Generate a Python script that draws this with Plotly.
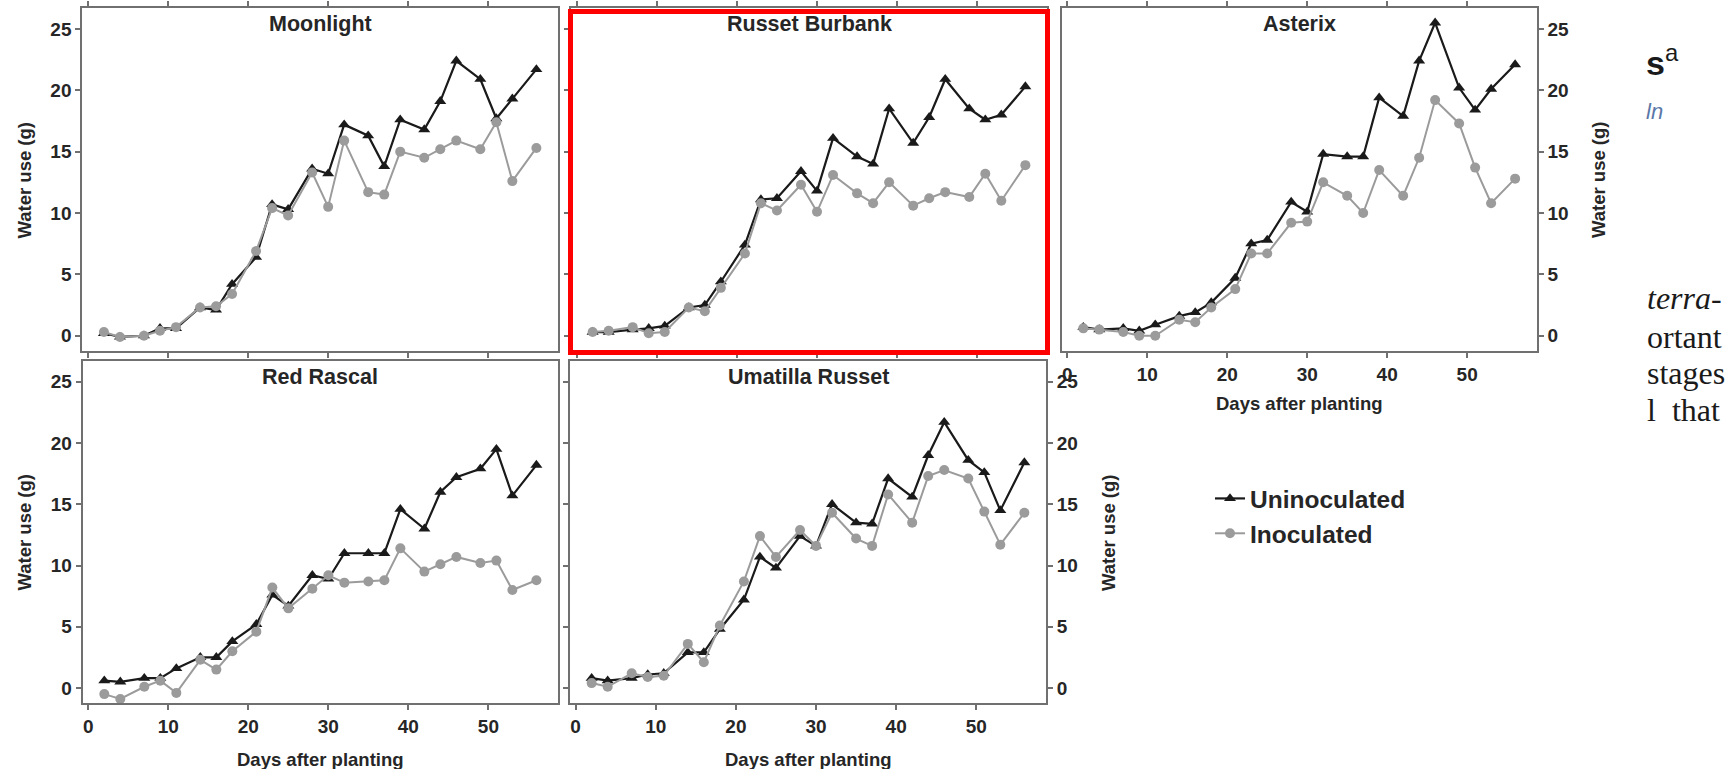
import plotly.graph_objects as go

# ---------------- data ----------------
days = [2, 4, 7, 9, 11, 14, 16, 18, 21, 23, 25, 28, 30, 32, 35, 37, 39, 42, 44, 46, 49, 51, 53, 56]

cultivars = ["Moonlight", "Russet Burbank", "Asterix", "Red Rascal", "Umatilla Russet"]

moonlight_unin = [0.2, -0.1, 0.0, 0.6, 0.6, 2.3, 2.1, 4.2, 6.4, 10.7, 10.3, 13.6, 13.2, 17.2, 16.3, 13.8, 17.6, 16.8, 19.1, 22.4, 20.9, 17.7, 19.3, 21.7]
moonlight_inoc = [0.3, -0.1, 0.0, 0.4, 0.7, 2.3, 2.4, 3.4, 6.9, 10.4, 9.8, 13.3, 10.5, 15.9, 11.7, 11.5, 15.0, 14.5, 15.2, 15.9, 15.2, 17.4, 12.6, 15.3]

burbank_unin = [0.3, 0.3, 0.5, 0.6, 0.8, 2.3, 2.5, 4.4, 7.4, 11.1, 11.2, 13.4, 11.8, 16.1, 14.6, 14.0, 18.5, 15.7, 17.8, 20.9, 18.5, 17.6, 18.0, 20.3]
burbank_inoc = [0.3, 0.4, 0.7, 0.2, 0.3, 2.3, 2.0, 3.9, 6.7, 10.8, 10.2, 12.3, 10.1, 13.1, 11.6, 10.8, 12.5, 10.6, 11.2, 11.7, 11.3, 13.2, 11.0, 13.9]

asterix_unin = [0.7, 0.5, 0.6, 0.4, 0.9, 1.6, 1.9, 2.7, 4.7, 7.5, 7.8, 10.9, 10.1, 14.8, 14.6, 14.6, 19.4, 17.9, 22.4, 25.5, 20.2, 18.4, 20.1, 22.1]
asterix_inoc = [0.6, 0.5, 0.3, 0.0, 0.0, 1.3, 1.1, 2.3, 3.8, 6.7, 6.7, 9.2, 9.3, 12.5, 11.4, 10.0, 13.5, 11.4, 14.5, 19.2, 17.3, 13.7, 10.8, 12.8]

redrascal_unin = [0.6, 0.5, 0.8, 0.8, 1.6, 2.5, 2.5, 3.8, 5.2, 7.6, 6.7, 9.2, 8.9, 11.0, 11.0, 11.0, 14.6, 13.0, 16.0, 17.2, 17.9, 19.5, 15.7, 18.2]
redrascal_inoc = [-0.5, -0.9, 0.1, 0.6, -0.4, 2.3, 1.5, 3.0, 4.6, 8.2, 6.5, 8.1, 9.2, 8.6, 8.7, 8.8, 11.4, 9.5, 10.1, 10.7, 10.2, 10.4, 8.0, 8.8]

umatilla_unin = [0.8, 0.6, 0.8, 1.1, 1.2, 2.9, 2.9, 4.8, 7.2, 10.7, 9.8, 12.4, 11.6, 15.0, 13.5, 13.4, 17.1, 15.6, 19.0, 21.7, 18.6, 17.6, 14.5, 18.4]
umatilla_inoc = [0.4, 0.1, 1.2, 0.9, 1.0, 3.6, 2.1, 5.1, 8.7, 12.4, 10.7, 12.9, 11.6, 14.3, 12.2, 11.6, 15.8, 13.5, 17.3, 17.8, 17.1, 14.4, 11.7, 14.3]

unin_series = [moonlight_unin, burbank_unin, asterix_unin, redrascal_unin, umatilla_unin]
inoc_series = [moonlight_inoc, burbank_inoc, asterix_inoc, redrascal_inoc, umatilla_inoc]

x_ticks = [0, 10, 20, 30, 40, 50]
y_ticks = [0, 5, 10, 15, 20, 25]
series_names = ["Uninoculated", "Inoculated"]
x_title = "Days after planting"
y_title = "Water use (g)"

# ---------------- layout geometry (pixels) ----------------
W, H = 1727, 769
# (left, right, top, bottom) frame boxes
boxes = [
    (82.3, 558.0, 8.3, 350.7),
    (571.0, 1047.0, 8.3, 350.7),
    (1061.7, 1536.7, 8.3, 350.7),
    (82.7, 558.0, 360.7, 703.3),
    (570.0, 1046.0, 360.7, 703.3),
]
x_range = [-0.7, 58.7]
y_ranges = [[-1.22, 26.68]] * 3 + [[-1.25, 26.72]] * 2


def px(x):
    return x / W


def py(y):
    return 1 - y / H


FONT = "Liberation Sans, Arial, sans-serif"
FRAME = "#707070"
TXT = "#262626"
BLACK = "#1a1a1a"
GRAY = "#9b9b9b"

fig = go.Figure()

for i in range(5):
    ax = "" if i == 0 else str(i + 1)
    fig.add_trace(go.Scatter(
        x=days, y=unin_series[i], mode="lines+markers", name=series_names[0],
        xaxis="x" + ax, yaxis="y" + ax, showlegend=(i == 0), legendrank=1,
        line=dict(color=BLACK, width=2.2),
        marker=dict(symbol="triangle-up", size=10.5, color=BLACK),
    ))
    fig.add_trace(go.Scatter(
        x=days, y=inoc_series[i], mode="lines+markers", name=series_names[1],
        xaxis="x" + ax, yaxis="y" + ax, showlegend=(i == 0), legendrank=2,
        line=dict(color=GRAY, width=2),
        marker=dict(symbol="circle", size=10, color=GRAY),
    ))

tickfont = dict(family=FONT, size=19, color=TXT, weight="bold")
common = dict(showgrid=False, zeroline=False, showline=True, linecolor=FRAME, linewidth=2,
              ticks="outside", ticklen=5, tickwidth=1.5, tickcolor=FRAME, tickfont=tickfont)

# per panel config: x mirror, x labels, y side, y mirror, y labels
cfg = [
    dict(xm="ticks", xl=False, ys="left", ym=True, yl=True),
    dict(xm="ticks", xl=False, ys="left", ym=True, yl=False),
    dict(xm="ticks", xl=True, ys="right", ym=True, yl=True),
    dict(xm=True, xl=True, ys="left", ym=True, yl=True),
    dict(xm=True, xl=True, ys="right", ym="ticks", yl=True),
]

layout = {}
for i, (l, r, t, b) in enumerate(boxes):
    ax = "" if i == 0 else str(i + 1)
    c = cfg[i]
    layout["xaxis" + ax] = dict(common, domain=[px(l), px(r)], range=x_range, anchor="y" + ax,
                                tickvals=x_ticks, mirror=c["xm"], showticklabels=c["xl"])
    layout["yaxis" + ax] = dict(common, domain=[py(b), py(t)], range=y_ranges[i], anchor="x" + ax,
                                tickvals=y_ticks, side=c["ys"], mirror=c["ym"], showticklabels=c["yl"])

annotations = []
title_font = dict(family=FONT, size=21.5, color=TXT, weight="bold")
axis_font = dict(family=FONT, size=18.5, color=TXT, weight="bold")
for i, (l, r, t, b) in enumerate(boxes):
    annotations.append(dict(text=cultivars[i], x=px((l + r) / 2), y=py(t + 16), xref="paper", yref="paper",
                            xanchor="center", yanchor="middle", showarrow=False, font=title_font))

# axis titles
for (xx, yy) in [(1299, 404), (320, 759), (808, 759)]:
    annotations.append(dict(text=x_title, x=px(xx), y=py(yy), xref="paper", yref="paper",
                            xanchor="center", yanchor="middle", showarrow=False, font=axis_font))
for (xx, yy) in [(23.5, 180), (23.5, 532), (1598, 180), (1108, 533)]:
    annotations.append(dict(text=y_title, x=px(xx), y=py(yy), xref="paper", yref="paper", textangle=-90,
                            xanchor="center", yanchor="middle", showarrow=False, font=axis_font))

# fragments of surrounding page text
serif = "Liberation Serif, DejaVu Serif, serif"
annotations.append(dict(text="<b>s</b><sup>a</sup>", x=px(1644), y=py(60), xref="paper", yref="paper",
                        xanchor="left", yanchor="middle", showarrow=False,
                        font=dict(family=FONT, size=34, color="#1a1a1a")))
annotations.append(dict(text="<i>ln</i>", x=px(1644), y=py(112), xref="paper", yref="paper",
                        xanchor="left", yanchor="middle", showarrow=False,
                        font=dict(family=FONT, size=22, color="#5a77a8")))
for txt, yy in [("<i>terra-</i>", 298), ("ortant", 337), ("stages", 373), ("l  that", 410)]:
    annotations.append(dict(text=txt, x=px(1645), y=py(yy), xref="paper", yref="paper",
                            xanchor="left", yanchor="middle", showarrow=False,
                            font=dict(family=serif, size=32, color="#1a1a1a")))

shapes = [dict(type="rect", xref="paper", yref="paper",
               x0=px(570.5), x1=px(1047.5), y0=py(352.5), y1=py(11.5),
               line=dict(color="#ff0000", width=5), fillcolor="rgba(0,0,0,0)", layer="above")]

fig.update_layout(
    **layout,
    width=W, height=H,
    margin=dict(l=0, r=0, t=0, b=0),
    paper_bgcolor="white", plot_bgcolor="white",
    annotations=annotations, shapes=shapes,
    showlegend=True,
    legend=dict(x=px(1210), y=py(476), xanchor="left", yanchor="top",
                font=dict(family=FONT, size=24.5, color=TXT, weight="bold"),
                bgcolor="rgba(0,0,0,0)", borderwidth=0, tracegroupgap=0, itemwidth=30),
)

fig.write_html("out.html", config={"displayModeBar": False},
               post_script="document.body.style.margin='0';document.body.style.overflow='hidden';")
